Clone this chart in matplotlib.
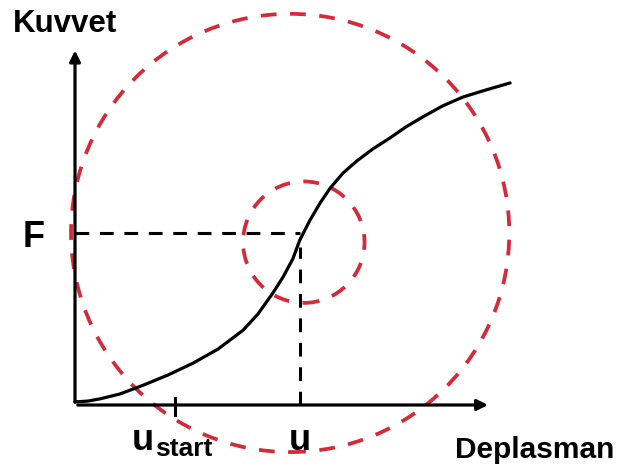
import matplotlib
matplotlib.use("Agg")
import matplotlib.pyplot as plt
from matplotlib.patches import Circle

plt.rcParams['font.family'] = ['Liberation Sans', 'DejaVu Sans']

# force-displacement curve
displacement = [0.0, 0.30, 0.57, 1.02, 1.55, 2.11, 2.68, 3.25, 3.82, 4.16, 4.50, 4.73,
                4.95, 5.11, 5.34, 5.57, 5.80, 6.09, 6.41, 6.77, 7.16, 7.52, 7.91, 8.36,
                8.82, 9.34, 9.89]
force = [0.07, 0.09, 0.14, 0.25, 0.45, 0.68, 0.95, 1.27, 1.70, 2.07, 2.55, 2.91,
         3.32, 3.75, 4.20, 4.59, 4.93, 5.27, 5.55, 5.82, 6.07, 6.32, 6.55, 6.80,
         7.00, 7.16, 7.32]

u_op = 5.11      # operating displacement u
F_op = 3.9       # force F
u_start = 2.27

big_center = (4.89, 3.91)
big_radius = 4.98
small_center = (5.2, 3.7)
small_radius = 1.38

red = '#d42a3a'

fig = plt.figure(figsize=(6.19, 4.66), dpi=100)
ax = fig.add_axes([0, 0, 1, 1])
ax.set_xlim(-75 / 44, 544 / 44)
ax.set_ylim(-61 / 44, 405 / 44)
ax.axis('off')

# axes with arrows
ax.annotate('', xy=(9.45, 0), xytext=(0, 0),
            arrowprops=dict(arrowstyle='-|>', lw=2.3, color='black', mutation_scale=16))
ax.annotate('', xy=(0, 8.12), xytext=(0, 0),
            arrowprops=dict(arrowstyle='-|>', lw=2.3, color='black', mutation_scale=16))

# curve
ax.plot(displacement, force, color='black', lw=2.3, solid_capstyle='round',
        solid_joinstyle='round')

# dashed guide lines
ax.plot([0, u_op], [F_op, F_op], color='black', lw=2.2, linestyle=(0, (4.5, 3.5)))
ax.plot([u_op, u_op], [0, 3.6], color='black', lw=2.2, linestyle=(0, (4.5, 3.5)))

# ticks
ax.plot([u_start, u_start], [-0.22, 0.15], color='black', lw=2.2)

# circles
ax.add_patch(Circle(big_center, big_radius, fill=False, edgecolor=red, lw=2.7,
                    linestyle=(0, (4.2, 3.6))))
ax.add_patch(Circle(small_center, small_radius, fill=False, edgecolor=red, lw=2.7,
                    linestyle=(0, (4.2, 3.6))))

# labels
ax.text(-1.41, 8.48, 'Kuvvet', fontsize=22.5, fontweight='bold', va='baseline', ha='left')
ax.text(-0.93, 3.8, 'F', fontsize=26, fontweight='bold', va='center', ha='center')
ax.text(1.3, -1.02, 'u', fontsize=26, fontweight='bold', va='baseline', ha='left')
ax.text(1.82, -1.16, 'start', fontsize=19, fontweight='bold', va='baseline', ha='left')
ax.text(u_op, -1.02, 'u', fontsize=26, fontweight='bold', va='baseline', ha='center')
ax.text(8.64, -1.2, 'Deplasman', fontsize=21.5, fontweight='bold', va='baseline', ha='left')

fig.savefig('out.png', dpi=100)
